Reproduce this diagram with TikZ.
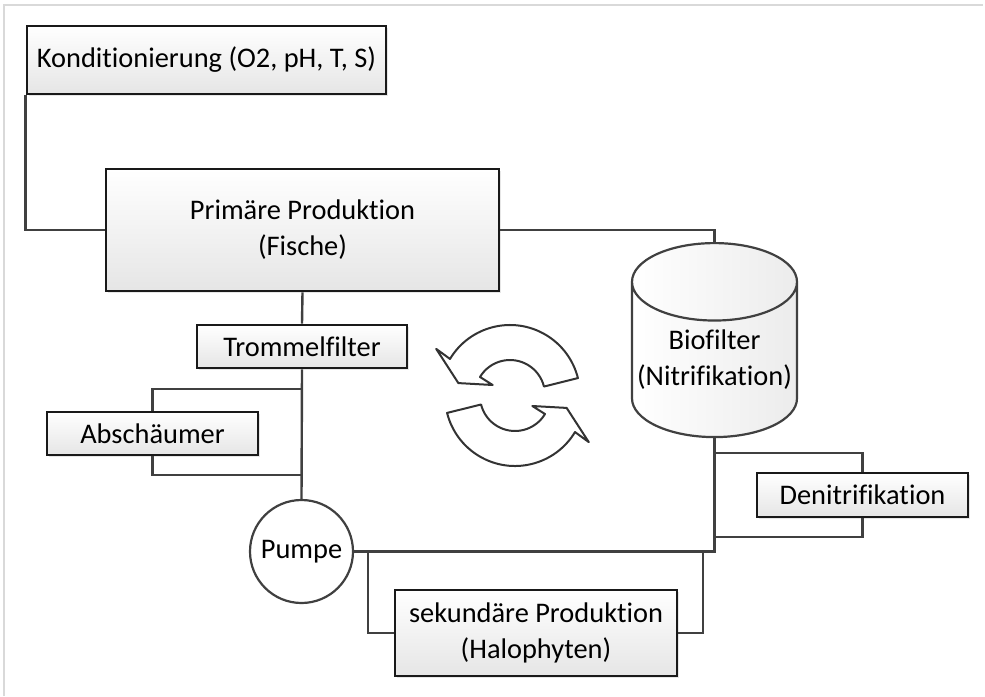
\documentclass[tikz,border=0pt]{standalone}
\usepackage{fontspec}
\setmainfont{Carlito}[Ligatures=NoCommon]
\usetikzlibrary{shapes.geometric,shadows}
\tikzset{
  cyclearrow/.pic={
    \draw[arrowshape] (149:70) arc[start angle=149,end angle=14,radius=70] -- (14:35)
      arc[start angle=14,end angle=149,radius=35] -- (150:20) -- (167:53) -- (148:87) -- cycle;
  }
}
\begin{document}
\begin{tikzpicture}[x=0.5pt,y=-0.5pt,
  every node/.style={font=\fontsize{14.2}{18}\selectfont,align=center,inner sep=0pt},
  box/.style={draw=black!90,line width=1.4pt,top color=white,bottom color=gray!20,
    drop shadow={shadow xshift=1pt,shadow yshift=-1pt,opacity=0.2}},
  tank/.style={cylinder,shape border rotate=90,aspect=0.5,draw=black!75,line width=1.1pt,
    left color=white,right color=gray!15},
  pumpnode/.style={circle,draw=black!75,line width=1.1pt,fill=white,minimum size=51.5pt},
  link/.style={draw=black!75,line width=1.2pt},
  arrowshape/.style={draw=black!80,line width=1pt,fill=white,line join=round},
  frame/.style={draw=gray!30,line width=1pt}]
  \useasboundingbox (0,0) rectangle (985,696);
  \draw[frame] (4,696) -- (4,5) -- (983,5);
  % Anlagen
  \node[box,minimum width=179.5pt,minimum height=34pt] (kond) at (206.5,60) {Konditionierung (O2, pH, T, S)};
  \node[box,minimum width=196.5pt,minimum height=61pt] (prim) at (302.5,230) {Primäre Produktion\\(Fische)};
  \node[box,minimum width=105pt,minimum height=21.5pt] (trommel) at (302,346.5) {Trommelfilter};
  \node[box,minimum width=105.5pt,minimum height=21.5pt] (absch) at (152.5,433.5) {Abschäumer};
  \node[pumpnode] (pumpe) at (301.5,551.5) {Pumpe};
  \node[tank,minimum width=82.5pt,minimum height=97pt] (bio) at (714.5,360) {Biofilter\\(Nitrifikation)};
  \node[box,minimum width=105.5pt,minimum height=22pt] (denit) at (862.5,495) {Denitrifikation};
  \node[box,minimum width=141pt,minimum height=43pt] (sek) at (536,633) {sekundäre Produktion\\(Halophyten)};
  % Kreislauf
  \coordinate (absin) at (302,389);
  \coordinate (absout) at (302,475);
  \coordinate (denin) at (714.5,453);
  \coordinate (denout) at (714.5,537);
  \coordinate (sekin) at (368,551.5);
  \coordinate (sekout) at (703,551.5);
  \draw[link] (kond.south west) |- (prim.west);
  \draw[link] (prim.east) -| (bio.north);
  \draw[link] (prim.south) -- (trommel.north);
  \draw[link] (trommel.south) -- (pumpe.north);
  \draw[link] (absin) -| (absch.north);
  \draw[link] (absch.south) |- (absout);
  \draw[link] (pumpe.east) -| (bio.south);
  \draw[link] (denin) -| (denit.north);
  \draw[link] (denit.south) |- (denout);
  \draw[link] (sekin) |- (sek.west);
  \draw[link] (sek.east) -| (sekout);
  % Pfeile in der Mitte
  \pic[yscale=-1] at (510,395) {cyclearrow};
  \pic[yscale=-1,rotate=180] at (515,396) {cyclearrow};
\end{tikzpicture}
\end{document}
